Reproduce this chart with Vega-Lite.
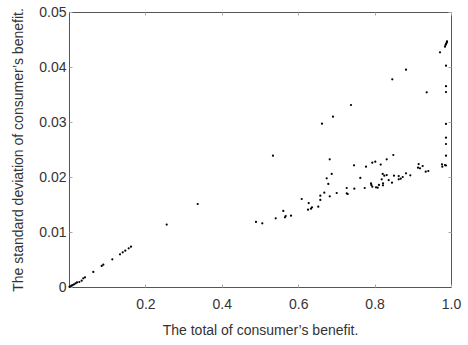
{
  "$schema": "https://vega.github.io/schema/vega-lite/v6.json",
  "width": 382,
  "height": 275,
  "autosize": {"type": "none"},
  "padding": {"left": 69, "top": 12, "right": 17, "bottom": 58},
  "background": "white",
  "config": {
    "view": {"stroke": "#555", "strokeWidth": 1},
    "axis": {
      "labelFont": "Liberation Sans",
      "titleFont": "Liberation Sans",
      "labelFontSize": 14,
      "titleFontSize": 14,
      "titleFontWeight": "normal",
      "labelColor": "#333",
      "titleColor": "#333",
      "domain": false,
      "grid": false,
      "tickColor": "#aaa",
      "tickSize": -3
    }
  },
  "data": {
    "values": [
      {"x": 0.0013, "y": 0.00004}, {"x": 0.0039, "y": 0.00013}, {"x": 0.0065, "y": 0.00024},
      {"x": 0.0092, "y": 0.00033}, {"x": 0.0131, "y": 0.00049}, {"x": 0.0170, "y": 0.00064},
      {"x": 0.0209, "y": 0.00082}, {"x": 0.0270, "y": 0.00091}, {"x": 0.0332, "y": 0.00115},
      {"x": 0.0374, "y": 0.00158}, {"x": 0.0419, "y": 0.00176}, {"x": 0.0636, "y": 0.00273},
      {"x": 0.0856, "y": 0.00382}, {"x": 0.0898, "y": 0.00405}, {"x": 0.1134, "y": 0.00504},
      {"x": 0.1335, "y": 0.00595}, {"x": 0.1406, "y": 0.00631}, {"x": 0.1474, "y": 0.00660},
      {"x": 0.1563, "y": 0.00704}, {"x": 0.1623, "y": 0.00733},
      {"x": 0.2558, "y": 0.01136}, {"x": 0.3369, "y": 0.01509},
      {"x": 0.4895, "y": 0.01182}, {"x": 0.5060, "y": 0.01158}, {"x": 0.5340, "y": 0.02387},
      {"x": 0.5411, "y": 0.01249}, {"x": 0.5610, "y": 0.01382}, {"x": 0.5654, "y": 0.01267},
      {"x": 0.5673, "y": 0.01291}, {"x": 0.5812, "y": 0.01296}, {"x": 0.6092, "y": 0.01600},
      {"x": 0.6257, "y": 0.01405}, {"x": 0.6275, "y": 0.01527}, {"x": 0.6335, "y": 0.01424},
      {"x": 0.6361, "y": 0.01449}, {"x": 0.6526, "y": 0.01460}, {"x": 0.6579, "y": 0.01660},
      {"x": 0.6579, "y": 0.01582}, {"x": 0.6623, "y": 0.02969}, {"x": 0.6683, "y": 0.01715},
      {"x": 0.6746, "y": 0.01976}, {"x": 0.6788, "y": 0.01873}, {"x": 0.6825, "y": 0.01649},
      {"x": 0.6825, "y": 0.02322}, {"x": 0.6877, "y": 0.02055}, {"x": 0.6911, "y": 0.03096},
      {"x": 0.7008, "y": 0.01709}, {"x": 0.7270, "y": 0.01800}, {"x": 0.7270, "y": 0.01704},
      {"x": 0.7296, "y": 0.01691}, {"x": 0.7382, "y": 0.03309}, {"x": 0.7461, "y": 0.02213},
      {"x": 0.7469, "y": 0.01787}, {"x": 0.7626, "y": 0.01982}, {"x": 0.7741, "y": 0.01800},
      {"x": 0.7775, "y": 0.02187}, {"x": 0.7906, "y": 0.01885}, {"x": 0.7914, "y": 0.01855},
      {"x": 0.7940, "y": 0.01824}, {"x": 0.7940, "y": 0.02260}, {"x": 0.8018, "y": 0.02278},
      {"x": 0.8037, "y": 0.01813}, {"x": 0.8081, "y": 0.01805}, {"x": 0.8115, "y": 0.01855},
      {"x": 0.8160, "y": 0.02227}, {"x": 0.8186, "y": 0.01958}, {"x": 0.8212, "y": 0.02055},
      {"x": 0.8220, "y": 0.01885}, {"x": 0.8220, "y": 0.01849}, {"x": 0.8254, "y": 0.02024},
      {"x": 0.8317, "y": 0.02036}, {"x": 0.8317, "y": 0.02322}, {"x": 0.8369, "y": 0.01945},
      {"x": 0.8455, "y": 0.01896}, {"x": 0.8463, "y": 0.03776}, {"x": 0.8490, "y": 0.02400},
      {"x": 0.8508, "y": 0.02024}, {"x": 0.8631, "y": 0.02018}, {"x": 0.8631, "y": 0.01958},
      {"x": 0.8683, "y": 0.01969}, {"x": 0.8736, "y": 0.02000}, {"x": 0.8822, "y": 0.02067},
      {"x": 0.8822, "y": 0.03951}, {"x": 0.8935, "y": 0.02031}, {"x": 0.9136, "y": 0.02169},
      {"x": 0.9154, "y": 0.02236}, {"x": 0.9188, "y": 0.02158}, {"x": 0.9259, "y": 0.02200},
      {"x": 0.9338, "y": 0.02096}, {"x": 0.9364, "y": 0.03540}, {"x": 0.9406, "y": 0.02109},
      {"x": 0.9712, "y": 0.04267}, {"x": 0.9764, "y": 0.02231}, {"x": 0.9772, "y": 0.02187},
      {"x": 0.9843, "y": 0.02218}, {"x": 0.9869, "y": 0.02209}, {"x": 0.9869, "y": 0.02387},
      {"x": 0.9869, "y": 0.02600}, {"x": 0.9869, "y": 0.02715}, {"x": 0.9869, "y": 0.02964},
      {"x": 0.9869, "y": 0.03545}, {"x": 0.9869, "y": 0.03651}, {"x": 0.9869, "y": 0.04024},
      {"x": 0.9843, "y": 0.04369}, {"x": 0.9856, "y": 0.04400}, {"x": 0.9869, "y": 0.04418},
      {"x": 0.9882, "y": 0.04436}, {"x": 0.9895, "y": 0.04455}, {"x": 0.9895, "y": 0.04464}
    ]
  },
  "layer": [
    {
      "mark": {"type": "point", "filled": true, "shape": "circle", "size": 5, "color": "#000", "opacity": 1},
      "encoding": {
        "x": {
          "field": "x", "type": "quantitative",
          "scale": {"domain": [0, 1], "nice": false, "zero": false},
          "axis": {
            "orient": "bottom",
            "values": [0.2, 0.4, 0.6, 0.8, 1.0],
            "format": ".1f",
            "labelPadding": 13,
            "labelFlush": false,
            "title": "The total of consumer’s benefit.",
            "titlePadding": 12
          }
        },
        "y": {
          "field": "y", "type": "quantitative",
          "scale": {"domain": [0, 0.05], "nice": false, "zero": false},
          "axis": {
            "orient": "left",
            "values": [0, 0.01, 0.02, 0.03, 0.04, 0.05],
            "labelExpr": "datum.value == 0 ? '0' : format(datum.value, '.2f')",
            "labelPadding": 6,
            "labelFlush": false,
            "title": "The standard deviation of consumer’s benefit.",
            "titlePadding": 13
          }
        }
      }
    },
    {
      "mark": {"type": "point", "filled": true, "size": 5, "opacity": 0},
      "encoding": {
        "x": {
          "field": "x", "type": "quantitative",
          "axis": {"orient": "top", "values": [0.2, 0.4, 0.6, 0.8, 1.0], "labels": false, "title": null}
        },
        "y": {
          "field": "y", "type": "quantitative",
          "axis": {"orient": "right", "values": [0.01, 0.02, 0.03, 0.04, 0.05], "labels": false, "title": null}
        }
      }
    }
  ],
  "resolve": {"axis": {"x": "independent", "y": "independent"}}
}
